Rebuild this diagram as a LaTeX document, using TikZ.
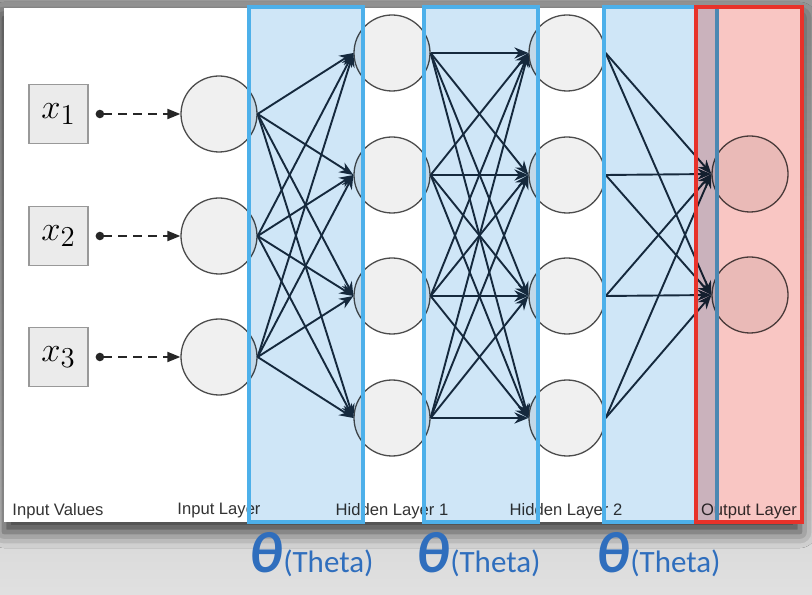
\documentclass[tikz,border=0pt]{standalone}
\usepackage{fontspec}
\setmainfont{Liberation Sans}
\newfontfamily\thetafont{Carlito}
\usetikzlibrary{arrows.meta,positioning,shadows.blur}

\definecolor{boxblue}{HTML}{4DB0EA}
\definecolor{boxbluefill}{HTML}{CFE6F7}
\definecolor{boxred}{HTML}{E8322A}
\definecolor{boxredfill}{HTML}{F9C6C3}
\definecolor{edgecol}{HTML}{1A2E40}
\definecolor{thetablue}{HTML}{2F6EBD}
\definecolor{labelgray}{HTML}{333333}

\begin{document}
\begin{tikzpicture}[
  x=0.5pt, y=0.5pt,
  neuron/.style={circle, draw=black!70, fill=black!6, minimum size=38pt, inner sep=0pt, line width=0.65pt},
  inbox/.style={rectangle, draw=black!40, fill=black!8, minimum size=29.5pt, inner sep=0pt, line width=0.7pt, font=\fontsize{19}{22}\selectfont},
  layerlabel/.style={font=\fontsize{8.3}{10}\selectfont, text=labelgray, inner sep=0pt},
  weights/.style={draw=boxblue, line width=2pt},
  line/.style={-{Stealth[length=7pt, width=5.6pt]}, draw=edgecol, line width=0.95pt},
  feed/.style={{Circle[length=4.2pt]}-{Triangle[length=6.5pt, width=5pt]}, draw=black!85, line width=1pt, dash pattern=on 4.5pt off 3pt},
  thetasym/.style={font=\thetafont\bfseries\itshape\fontsize{29}{32}\selectfont, text=thetablue, inner sep=0pt},
  thetaname/.style={font=\thetafont\fontsize{15.5}{18}\selectfont, text=thetablue, inner sep=0pt}
]
\useasboundingbox (0,0) rectangle (812,594);

% Background and page
\fill[top color=black!40, bottom color=black!12] (0,0) rectangle (812,594);
\path[fill=white, blur shadow={shadow xshift=0pt, shadow yshift=-5pt, shadow blur radius=8pt, shadow opacity=75}] (4,72) rectangle (800,586);

% Nodes
\foreach \i/\y in {1/480, 2/358, 3/237} {
  \node[inbox] (x\i) at (58.5,\y) {$x_{\i}$};
  \node[neuron] (in\i) at (219,\y) {};
}
\foreach \i/\y in {1/541, 2/419, 3/298, 4/176} {
  \node[neuron] (ha\i) at (392,\y) {};
  \node[neuron] (hb\i) at (567,\y) {};
}
\foreach \i/\y in {1/420, 2/299}
  \node[neuron] (out\i) at (750,\y) {};

% Arrows
\foreach \i in {1,2,3}
  \draw[feed, shorten <=3.5pt] (x\i) -- (in\i);
\foreach \i in {1,2,3}
  \foreach \j in {1,...,4}
    \draw[line] (in\i.east) -- (ha\j.west);
\foreach \i in {1,...,4}
  \foreach \j in {1,...,4}
    \draw[line] (ha\i.east) -- (hb\j.west);
\foreach \i in {1,...,4}
  \foreach \j in {1,2}
    \draw[line] (hb\i.east) -- (out\j.west);

% Layer names
\node[layerlabel] (lblvals) at (58,83) {Input Values};
\node[layerlabel] (lblin) at (219,83) {Input Layer};
\node[layerlabel] (lblha) at (392,83) {Hidden Layer 1};
\node[layerlabel] (lblhb) at (566,83) {Hidden Layer 2};
\node[layerlabel] (lblout) at (749,83) {Output Layer};

% Weight boxes
\begin{scope}[blend mode=multiply]
  \fill[boxbluefill] (249,72) rectangle (363,587);
  \fill[boxbluefill] (424,72) rectangle (538,587);
  \fill[boxbluefill] (604,72) rectangle (717,587);
\end{scope}
\draw[weights] (249,72) rectangle (363,587);
\draw[weights] (424,72) rectangle (538,587);
\draw[weights] (604,72) rectangle (717,587);
\begin{scope}[blend mode=multiply]
  \fill[boxredfill] (696,72) rectangle (802,587);
\end{scope}
\draw[draw=boxred, line width=2pt] (696,72) rectangle (802,587);

% Theta
\node[thetasym, anchor=base west] (theta1) at (249,22) {θ};
\node[thetaname, base right=0pt of theta1] (thname1) {(Theta)};
\node[thetasym, anchor=base west] (theta2) at (416,22) {θ};
\node[thetaname, base right=0pt of theta2] (thname2) {(Theta)};
\node[thetasym, anchor=base west] (theta3) at (596,22) {θ};
\node[thetaname, base right=0pt of theta3] (thname3) {(Theta)};

\end{tikzpicture}
\end{document}
